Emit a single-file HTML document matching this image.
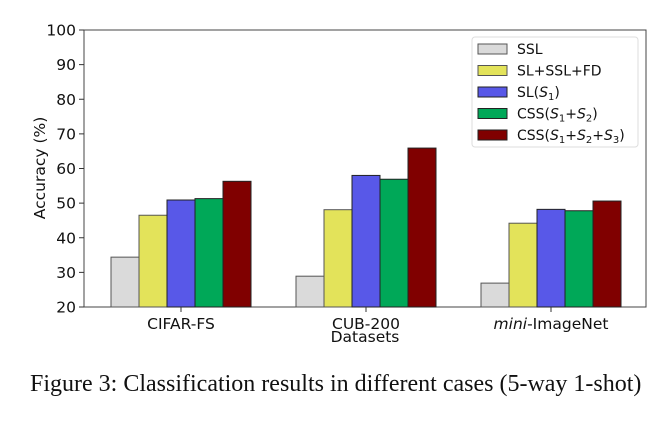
<!DOCTYPE html>
<html><head><meta charset="utf-8"><style>
body{margin:0;background:#fff;width:671px;height:423px;overflow:hidden}
svg text{font-family:"DejaVu Sans","Liberation Sans",sans-serif}
</style></head><body>
<svg width="671" height="423">
<g id="axes"></g>
<text x="30" y="391" style="font-family:'Liberation Serif',serif" font-size="24" fill="#111">Figure 3: Classification results in different cases (5-way 1-shot)</text>
</svg>
<script>
const categories=["CIFAR-FS","CUB-200","mini-ImageNet"];
const seriesNames=["SSL","SL+SSL+FD","SL(S1)","CSS(S1+S2)","CSS(S1+S2+S3)"];
const ssl=[34.4,28.9,26.9];
const slSslFd=[46.5,48.1,44.2];
const slS1=[50.9,58,48.2];
const cssS12=[51.3,56.9,47.8];
const cssS123=[56.3,65.9,50.6];
const yTicks=[20,30,40,50,60,70,80,90,100];
const series=[ssl,slSslFd,slS1,cssS12,cssS123];
const colors=["#dadada","#e3e35a","#5858e8","#00a858","#800000"];
const edge=["#555","#555","#222","#222","#222"];
const L=84,R=646,T=30,B=307;
const y=v=>B-(v-20)/80*(B-T);
const gx=i=>181+i*185;
const bw=28;
const ns="http://www.w3.org/2000/svg";
const g=document.getElementById('axes');
function mk(t,a,txt){const e=document.createElementNS(ns,t);for(const k in a)e.setAttribute(k,a[k]);if(txt!==undefined)e.textContent=txt;g.appendChild(e);return e;}
let fr=mk('rect',{x:L,y:T,width:R-L,height:B-T,fill:'none',stroke:'#444','stroke-width':1});


yTicks.forEach(v=>{
 let l=mk('line',{x1:L-5,x2:L,y1:y(v),y2:y(v),stroke:'#333'});
 
 
 let t=mk('text',{x:L-8,y:y(v)+5.5,'text-anchor':'end','font-size':15.5,fill:'#111'},v);
 
 
});
categories.forEach((c,i)=>{
 series.forEach((s,j)=>{
  const x=gx(i)-2.5*bw+j*bw;
  let r=mk('rect',{x:x,y:y(s[i]),width:bw,height:B-y(s[i]),fill:colors[j],stroke:edge[j],'stroke-width':1});
  
  
 });
 let tk=mk('line',{x1:gx(i),x2:gx(i),y1:B,y2:B+5,stroke:'#333'});
 
 
 let t=mk('text',{x:gx(i),y:B+22,'text-anchor':'middle','font-size':15.5,fill:'#111'});
 if(c.startsWith('mini')){t.innerHTML='<tspan font-style="italic">mini</tspan>-ImageNet';}else t.textContent=c;
 
 
});
let xt=mk('text',{x:365,y:342,'text-anchor':'middle','font-size':15.5,fill:'#111'},'Datasets');


let yt=mk('text',{x:0,y:0,transform:'translate(45,168) rotate(-90)','text-anchor':'middle','font-size':15.5,fill:'#111'},'Accuracy (%)');


let lb=mk('rect',{x:472,y:37,width:166,height:110,rx:3,fill:'#fff',stroke:'#ddd'});


const labelsHTML=['SSL','SL+SSL+FD','SL(<tspan font-style="italic">S</tspan><tspan font-size="10" dy="3">1</tspan><tspan dy="-3">)</tspan>',
'CSS(<tspan font-style="italic">S</tspan><tspan font-size="10" dy="3">1</tspan><tspan dy="-3">+</tspan><tspan font-style="italic">S</tspan><tspan font-size="10" dy="3">2</tspan><tspan dy="-3">)</tspan>',
'CSS(<tspan font-style="italic">S</tspan><tspan font-size="10" dy="3">1</tspan><tspan dy="-3">+</tspan><tspan font-style="italic">S</tspan><tspan font-size="10" dy="3">2</tspan><tspan dy="-3">+</tspan><tspan font-style="italic">S</tspan><tspan font-size="10" dy="3">3</tspan><tspan dy="-3">)</tspan>'];
seriesNames.forEach((n,j)=>{
 const yy=49+j*21.5;
 let s=mk('rect',{x:478,y:yy-5,width:29,height:10,fill:colors[j],stroke:edge[j]});
 
 
 let t=mk('text',{x:517,y:yy+5,'font-size':14,fill:'#111'});
 t.innerHTML=labelsHTML[j];
 
 
});
</script>
</body></html>
